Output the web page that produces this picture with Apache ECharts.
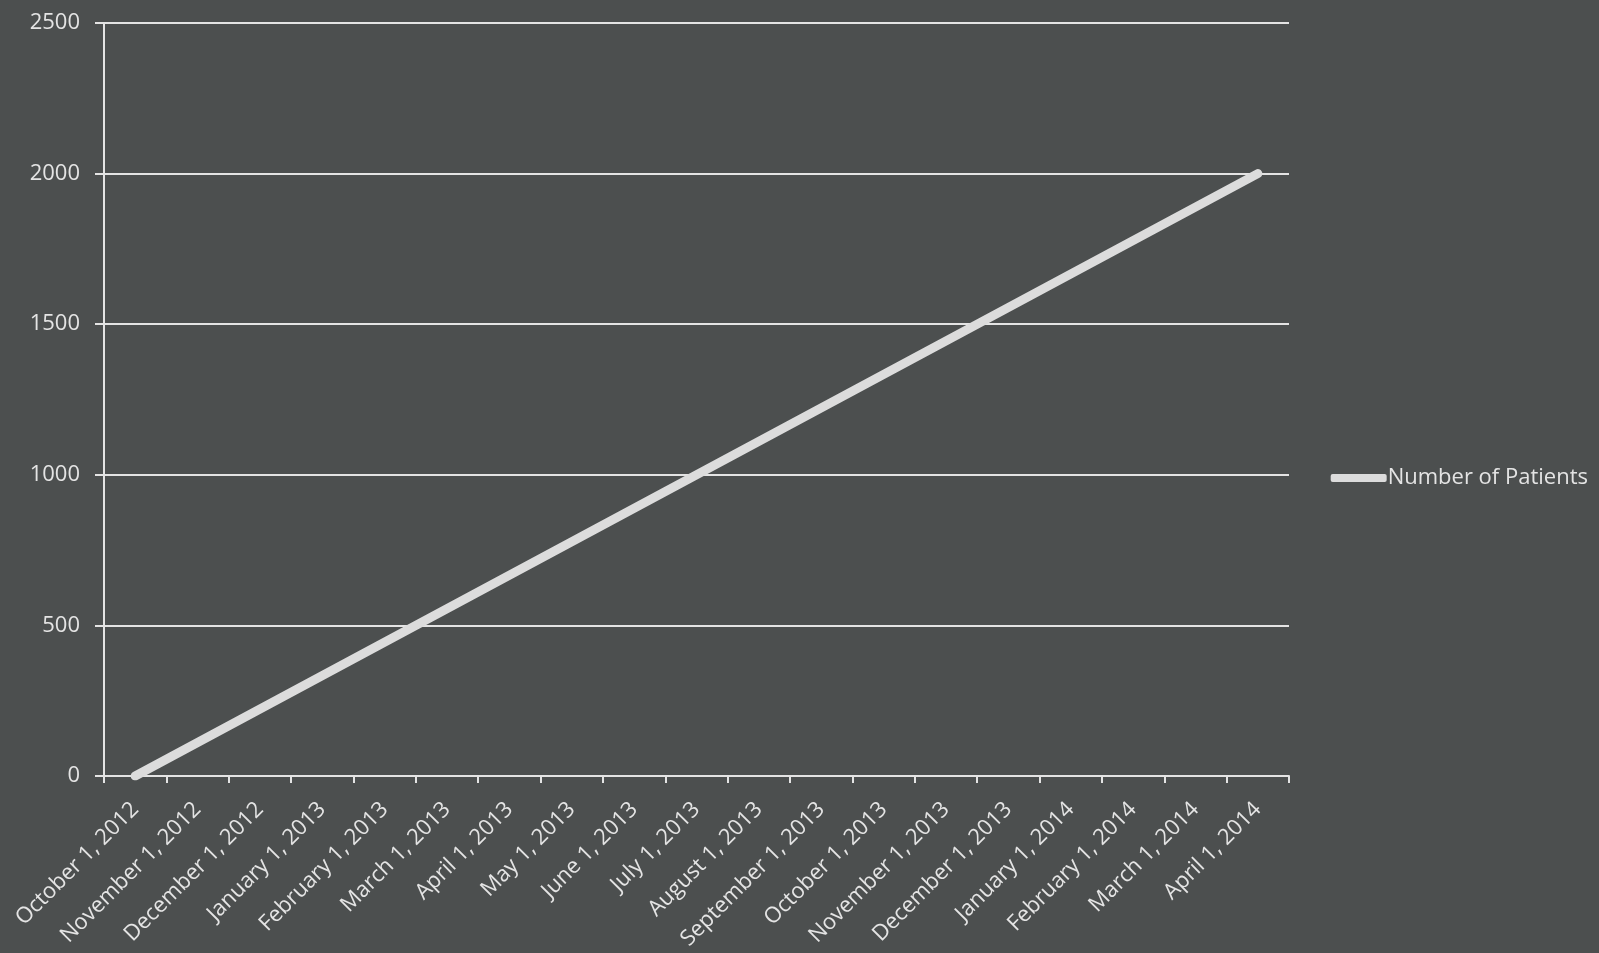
<!DOCTYPE html>
<html>
<head>
<meta charset="utf-8">
<title>Number of Patients</title>
<script src="https://cdn.jsdelivr.net/npm/echarts@6/dist/echarts.min.js"></script>
<style>
  html, body { margin: 0; padding: 0; background: #4c4f4f; }
  #main { width: 1599px; height: 953px; }
</style>
</head>
<body>
<div id="main"></div>
<script>
var months = [
  "October 1, 2012", "November 1, 2012", "December 1, 2012",
  "January 1, 2013", "February 1, 2013", "March 1, 2013", "April 1, 2013",
  "May 1, 2013", "June 1, 2013", "July 1, 2013", "August 1, 2013",
  "September 1, 2013", "October 1, 2013", "November 1, 2013",
  "December 1, 2013", "January 1, 2014", "February 1, 2014",
  "March 1, 2014", "April 1, 2014"
];
// only the first and last months carry a value; the line joins them
var patients = [0, null, null, null, null, null, null, null, null, null,
  null, null, null, null, null, null, null, null, 2000];
var yTicks = [0, 500, 1000, 1500, 2000, 2500];

var chartDom = document.getElementById("main");
var myChart = echarts.init(chartDom);
var option;

var chalk = "#e4e4e4";
var font = "'Open Sans', 'Liberation Sans', sans-serif";

option = {
  backgroundColor: "#4c4f4f",
  animation: false,
  grid: {
    left: 104,
    right: 310,
    top: 23,
    bottom: 177,
    containLabel: false
  },
  legend: {
    orient: "vertical",
    right: 6,
    top: 462,
    data: ["Number of Patients"],
    icon: "roundRect",
    itemWidth: 56,
    itemHeight: 8,
    itemGap: 0,
    textStyle: {
      color: chalk,
      fontSize: 22,
      fontFamily: font,
      padding: [0, 0, 0, -4]
    }
  },
  xAxis: {
    type: "category",
    data: months,
    boundaryGap: true,
    axisLine: { lineStyle: { color: chalk, width: 2 } },
    axisTick: { show: true, length: 7, lineStyle: { color: chalk, width: 2 } },
    axisLabel: {
      rotate: 45,
      interval: 0,
      color: chalk,
      fontSize: 22,
      fontFamily: font,
      margin: 30
    }
  },
  yAxis: {
    type: "value",
    min: yTicks[0],
    max: yTicks[yTicks.length - 1],
    interval: 500,
    axisLine: { show: true, lineStyle: { color: chalk, width: 2 } },
    axisTick: { show: true, length: 9, lineStyle: { color: chalk, width: 2 } },
    axisLabel: {
      color: chalk,
      fontSize: 22,
      fontFamily: font,
      margin: 24,
      formatter: function (v) { return String(v); }
    },
    splitLine: { lineStyle: { color: chalk, width: 2 } }
  },
  series: [
    {
      name: "Number of Patients",
      type: "line",
      data: patients,
      connectNulls: true,
      symbol: "none",
      itemStyle: { color: "#dcdcdc" },
      lineStyle: { color: "#dcdcdc", width: 9, cap: "round" }
    }
  ]
};

option && myChart.setOption(option);
</script>
</body>
</html>
